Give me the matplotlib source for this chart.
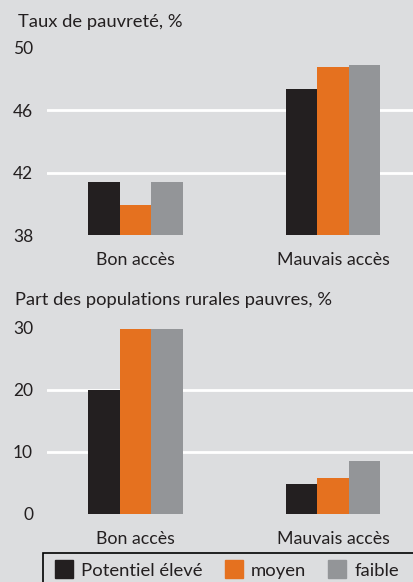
import matplotlib.pyplot as plt
import matplotlib.patches as mpatches
import numpy as np

# Données
categories = ['Bon accès', 'Mauvais accès']
series = ['Potentiel élevé', 'moyen', 'faible']
couleurs = ['#231f20', '#e5711f', '#939598']

taux_pauvrete = [[41.4, 47.4],   # Potentiel élevé
                 [39.9, 48.8],   # moyen
                 [41.4, 48.9]]   # faible
part_pauvres = [[20.0, 4.8],
                [29.8, 5.8],
                [29.8, 8.5]]

titre_haut = 'Taux de pauvreté, %'
titre_bas = 'Part des populations rurales pauvres, %'
ticks_haut = [38, 42, 46, 50]
ticks_bas = [0, 10, 20, 30]

fond = '#dcdddf'
plt.rcParams['font.family'] = ['Lato', 'DejaVu Sans']

W, H = 414, 582
fig = plt.figure(figsize=(W / 100, H / 100), dpi=100, facecolor=fond)

x = np.arange(len(categories))
largeur = 0.16


def panneau(rect, valeurs, ticks, titre, titre_x, titre_y):
    ax = fig.add_axes(rect)
    ax.set_facecolor(fond)
    for i in range(len(series)):
        ax.bar(x + (i - 1) * largeur, valeurs[i], largeur, bottom=ticks[0],
               color=couleurs[i], label=series[i], zorder=3)
    ax.set_ylim(ticks[0], ticks[-1])
    ax.set_yticks(ticks)
    ax.set_xlim(-0.448, 1.41)
    ax.set_xticks(x)
    ax.set_xticklabels(categories)
    for s in ax.spines.values():
        s.set_visible(False)
    ax.tick_params(length=0, labelsize=12.5, colors='#231f20')
    ax.tick_params(axis='y', pad=10)
    ax.tick_params(axis='x', pad=12, labelsize=12.8)
    for t in ticks[1:-1]:
        ax.axhline(t, color='white', linewidth=2, zorder=1)
    fig.text(titre_x, titre_y, titre, fontsize=13.2, color='#231f20', va='center')
    return ax


# barres du haut : valeur - base
haut = [[v - ticks_haut[0] for v in s] for s in taux_pauvrete]
ax1 = panneau([47 / W, 1 - 235 / H, 1 - 47 / W, 187 / H], haut, ticks_haut,
              titre_haut, 18 / W, 1 - 22 / H)
ax2 = panneau([47 / W, 1 - 514 / H, 1 - 47 / W, 186.3 / H], part_pauvres, ticks_bas,
              titre_bas, 15 / W, 1 - 300 / H)

# cadre de la légende
cadre = mpatches.Rectangle((43 / W, -0.05), 1, 1 - 552.7 / H + 0.05, transform=fig.transFigure,
                           facecolor=fond, edgecolor='black', linewidth=1.2)
fig.patches.append(cadre)
poignees = [mpatches.Patch(color=c) for c in couleurs]
fig.legend(poignees, series, loc='upper left', bbox_to_anchor=(49 / W, 1 - 554 / H),
           ncol=3, frameon=False, fontsize=13.3, handlelength=0.95, handleheight=1.1,
           handletextpad=0.45, columnspacing=1.2, borderaxespad=0, borderpad=0.35,
           labelcolor='#231f20')

fig.savefig('out.png', dpi=100, facecolor=fond)
